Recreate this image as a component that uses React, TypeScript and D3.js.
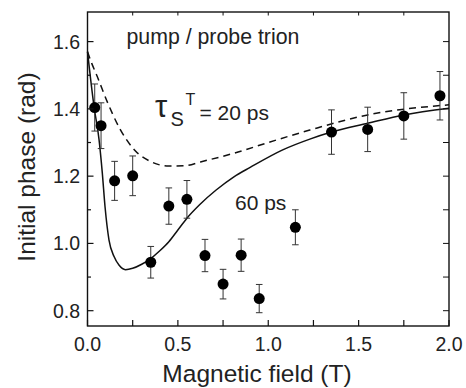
import React from "react";
import * as d3 from "d3";

const W = 466;
const H = 388;

// measured data points (field in T, phase in rad, error)
const fieldT = [0.04, 0.075, 0.15, 0.25, 0.35, 0.45, 0.55, 0.65, 0.75, 0.85, 0.95, 1.15, 1.35, 1.55, 1.75, 1.95];
const phase = [1.404, 1.35, 1.186, 1.201, 0.944, 1.111, 1.131, 0.964, 0.879, 0.965, 0.836, 1.048, 1.331, 1.339, 1.379, 1.439];
const phaseErr = [0.07, 0.068, 0.058, 0.059, 0.047, 0.054, 0.056, 0.048, 0.044, 0.048, 0.042, 0.052, 0.066, 0.066, 0.069, 0.072];

// model curve, tau = 60 ps (solid)
const solidX = [0, 0.036, 0.064, 0.082, 0.097, 0.119, 0.147, 0.175, 0.21, 0.25, 0.3, 0.35, 0.4, 0.45, 0.5, 0.55, 0.62, 0.71, 0.81, 0.9, 1.08, 1.23, 1.35, 1.55, 1.75, 2.0];
const solidY = [1.57, 1.407, 1.308, 1.209, 1.109, 1.01, 0.961, 0.935, 0.922, 0.926, 0.938, 0.955, 0.978, 1.005, 1.04, 1.075, 1.115, 1.158, 1.198, 1.226, 1.278, 1.31, 1.331, 1.357, 1.382, 1.402];

// model curve, tau = 20 ps (dashed)
const dashedX = [0, 0.023, 0.054, 0.11, 0.18, 0.26, 0.355, 0.45, 0.54, 0.63, 0.81, 1.0, 1.23, 1.55, 2.0];
const dashedY = [1.57, 1.536, 1.496, 1.42, 1.34, 1.278, 1.242, 1.23, 1.231, 1.243, 1.268, 1.3, 1.337, 1.382, 1.412];

const xMajor = [0, 0.5, 1.0, 1.5, 2.0];
const xTickLabels = ["0.0", "0.5", "1.0", "1.5", "2.0"];
const xMinor = [0.25, 0.75, 1.25, 1.75];
const yMajor = [0.8, 1.0, 1.2, 1.4, 1.6];
const yTickLabels = ["0.8", "1.0", "1.2", "1.4", "1.6"];
const yMinor = [0.9, 1.1, 1.3, 1.5];

const FONT = "'Liberation Sans', Arial, Helvetica, sans-serif";

export default function App() {
  const left = 87.5, right = 449, top = 12, bottom = 326;
  const x = d3.scaleLinear().domain([0, 2]).range([left, right]);
  const y = d3.scaleLinear().domain([0.7545, 1.688]).range([bottom, top]);

  const gen = d3
    .line<[number, number]>()
    .x((d) => x(d[0]))
    .y((d) => y(d[1]))
    .curve(d3.curveMonotoneX);

  const solidPath = gen(solidX.map((v, i) => [v, solidY[i]] as [number, number]));
  const dashedPath = gen(dashedX.map((v, i) => [v, dashedY[i]] as [number, number]));

  const tickLen = 6;
  const minorLen = 3.5;
  const topTicks = [0.25, 0.5, 0.75, 1.0, 1.25, 1.5, 1.75];
  const rightTicks = [0.8, 0.9, 1.0, 1.1, 1.2, 1.3, 1.4, 1.5, 1.6];

  return (
    <svg
      width={W}
      height={H}
      style={{ position: "absolute", left: 0, top: 0, background: "#fff" }}
      fontFamily={FONT}
    >
      <rect x={0} y={0} width={W} height={H} fill="#fff" />
      {/* curves */}
      <path d={dashedPath || ""} fill="none" stroke="#111" strokeWidth={1.5} strokeDasharray="7,5" />
      <path d={solidPath || ""} fill="none" stroke="#111" strokeWidth={1.5} />

      {/* error bars and points */}
      {fieldT.map((fx, i) => {
        const cx = x(fx);
        const y1 = y(phase[i] + phaseErr[i]);
        const y2 = y(phase[i] - phaseErr[i]);
        return (
          <g key={i}>
            <line x1={cx} x2={cx} y1={y1} y2={y2} stroke="#333" strokeWidth={1} />
            <line x1={cx - 3.3} x2={cx + 3.3} y1={y1} y2={y1} stroke="#333" strokeWidth={1} />
            <line x1={cx - 3.3} x2={cx + 3.3} y1={y2} y2={y2} stroke="#333" strokeWidth={1} />
            <circle cx={cx} cy={y(phase[i])} r={5.5} fill="#000" />
          </g>
        );
      })}

      {/* frame */}
      <rect x={left} y={top} width={right - left} height={bottom - top} fill="none" stroke="#111" strokeWidth={1.4} />

      {/* bottom ticks */}
      {xMajor.map((v) => (
        <line key={"xb" + v} x1={x(v)} x2={x(v)} y1={bottom} y2={bottom - tickLen} stroke="#111" strokeWidth={1.2} />
      ))}
      {xMinor.map((v) => (
        <line key={"xm" + v} x1={x(v)} x2={x(v)} y1={bottom} y2={bottom - tickLen} stroke="#111" strokeWidth={1.2} />
      ))}
      {/* top ticks */}
      {topTicks.map((v) => (
        <line key={"xt" + v} x1={x(v)} x2={x(v)} y1={top} y2={top + minorLen} stroke="#111" strokeWidth={1} />
      ))}
      {/* left ticks */}
      {yMajor.map((v) => (
        <line key={"yl" + v} x1={left} x2={left + tickLen} y1={y(v)} y2={y(v)} stroke="#111" strokeWidth={1.2} />
      ))}
      {yMinor.map((v) => (
        <line key={"ym" + v} x1={left} x2={left + minorLen} y1={y(v)} y2={y(v)} stroke="#111" strokeWidth={1.2} />
      ))}
      {/* right ticks */}
      {rightTicks.map((v) => (
        <line key={"yr" + v} x1={right} x2={right - tickLen} y1={y(v)} y2={y(v)} stroke="#111" strokeWidth={1} />
      ))}

      {/* tick labels */}
      {xMajor.map((v, i) => (
        <text key={"xl" + v} x={x(v)} y={350.5} fontSize={19.5} textAnchor="middle" fill="#222">
          {xTickLabels[i]}
        </text>
      ))}
      {yMajor.map((v, i) => (
        <text key={"ylab" + v} x={80} y={y(v) + 7} fontSize={19.5} textAnchor="end" fill="#222">
          {yTickLabels[i]}
        </text>
      ))}

      {/* axis titles */}
      <text x={257} y={382} fontSize={24.5} textAnchor="middle" fill="#222">
        Magnetic field (T)
      </text>
      <text transform="translate(35,167) rotate(-90)" fontSize={24.5} textAnchor="middle" fill="#222">
        Initial phase (rad)
      </text>

      {/* annotations */}
      <text x={126.5} y={44} fontSize={21.3} fill="#222">
        pump / probe trion
      </text>
      <text x={155} y={117} fontSize={31} fill="#222">
        τ
      </text>
      <text x={170.5} y={126} fontSize={20} fill="#222">
        S
      </text>
      <text x={185.5} y={105} fontSize={16} fill="#222">
        T
      </text>
      <text x={199.5} y={120} fontSize={21} fill="#222">
        = 20 ps
      </text>
      <text x={235} y={209.5} fontSize={21} fill="#222">
        60 ps
      </text>
    </svg>
  );
}
